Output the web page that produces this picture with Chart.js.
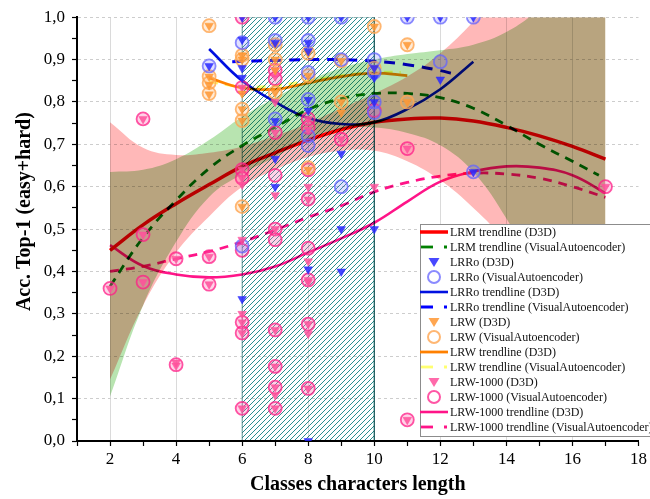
<!DOCTYPE html>
<html>
<head>
<meta charset="utf-8">
<title>Acc. Top-1 vs classes characters length</title>
<script src="https://cdn.jsdelivr.net/npm/chart.js@4.4.1/dist/chart.umd.min.js"></script>
<style>
  html, body { margin: 0; padding: 0; background: #fff; }
  #wrap { width: 650px; height: 499px; }
</style>
</head>
<body>
<div id="wrap"><canvas id="chart" width="650" height="499"></canvas></div>
<script>
// x positions of the fitted curves and confidence bands
const fitX = [2, 3, 4, 5, 6, 7, 8, 9, 10, 11, 12, 13, 14, 15, 16, 17];

// LRM trendlines
const lrmD3dTrend = [0.45, 0.51, 0.56, 0.605, 0.648, 0.68, 0.71, 0.735, 0.752, 0.76, 0.762, 0.755, 0.74, 0.72, 0.695, 0.665];
const lrmVaTrendX = [2, 3, 4, 5, 6, 7, 8, 9, 10, 11, 12, 13, 14, 15, 16, 16.8];
const lrmVaTrend = [0.365, 0.48, 0.568, 0.643, 0.697, 0.74, 0.782, 0.808, 0.82, 0.82, 0.81, 0.785, 0.745, 0.7, 0.66, 0.627];

// confidence bands (D3D = red, VisualAutoencoder = green)
const redBandUpper = [0.752, 0.692, 0.675, 0.68, 0.695, 0.72, 0.75, 0.785, 0.82, 0.86, 0.915, 0.99, 1.08, 1.2, 1.34, 1.5];
const redBandLower = [0.145, 0.32, 0.445, 0.53, 0.6, 0.64, 0.67, 0.685, 0.685, 0.66, 0.615, 0.55, 0.47, 0.37, 0.24, 0.09];
const greenBandUpper = [0.635, 0.64, 0.665, 0.71, 0.765, 0.81, 0.85, 0.88, 0.9, 0.913, 0.922, 0.935, 0.965, 1.02, 1.1, 1.2];
const greenBandLower = [0.105, 0.32, 0.47, 0.576, 0.63, 0.67, 0.714, 0.736, 0.74, 0.727, 0.698, 0.635, 0.525, 0.38, 0.22, 0.03];

// LRRo trendlines
const lrroD3dTrendX = [5, 6, 7, 8, 9, 10, 11, 12, 13];
const lrroD3dTrend = [0.925, 0.85, 0.8, 0.762, 0.748, 0.752, 0.783, 0.83, 0.895];
const lrroVaTrendX = [5.7, 7, 8, 9, 10, 11, 12, 12.4];
const lrroVaTrend = [0.895, 0.898, 0.9, 0.9, 0.896, 0.888, 0.874, 0.866];

// LRW trendlines
const lrwD3dTrendX = [5, 6, 7, 8, 9, 10, 11];
const lrwD3dTrend = [0.857, 0.833, 0.83, 0.845, 0.86, 0.868, 0.862];
const lrwVaTrendX = [5, 6, 7, 8, 9, 10, 10.8];
const lrwVaTrend = [0.848, 0.836, 0.838, 0.85, 0.862, 0.87, 0.87];

// LRW-1000 trendlines
const lrw1000D3dTrend = [0.462, 0.413, 0.393, 0.386, 0.393, 0.412, 0.445, 0.478, 0.515, 0.565, 0.612, 0.636, 0.648, 0.645, 0.627, 0.585];
const lrw1000VaTrend = [0.4, 0.412, 0.43, 0.447, 0.47, 0.498, 0.528, 0.555, 0.588, 0.61, 0.625, 0.632, 0.63, 0.62, 0.6, 0.575];

// measured points [length, accuracy]
const lrroD3d = [[5, 0.885], [6, 1.0], [6, 0.947], [6, 0.88], [6, 0.857], [6, 0.335], [7, 1.0], [7, 0.94], [7, 0.755],
  [7, 0.666], [7, 0.6], [8, 1.0], [8, 0.94], [8, 0.92], [8, 0.805], [8, 0.78], [8, 0.405], [8, 0.0], [9, 1.0],
  [9, 0.678], [9, 0.5], [9, 0.4], [10, 0.88], [10, 0.857], [10, 0.8], [10, 0.5], [11, 1.0], [12, 1.0], [12, 0.853],
  [13, 1.0], [13, 0.635]];
const lrroVa = [[5, 0.885], [6, 0.94], [6, 0.46], [7, 1.0], [7, 0.945], [7, 0.76], [8, 1.0], [8, 0.945], [8, 0.87],
  [8, 0.806], [8, 0.72], [8, 0.697], [9, 1.0], [9, 0.9], [9, 0.6], [10, 0.9], [10, 0.87], [10, 0.8], [10, 0.775],
  [11, 1.0], [12, 1.0], [12, 0.895], [13, 1.0], [13, 0.635]];
const lrwD3d = [[5, 0.98], [5, 0.86], [5, 0.84], [5, 0.818], [6, 0.91], [6, 0.9], [6, 0.82], [6, 0.783], [6, 0.756],
  [6, 0.553], [7, 0.935], [7, 0.9], [7, 0.875], [7, 0.822], [8, 0.915], [8, 0.862], [8, 0.64], [9, 0.897], [9, 0.8],
  [9, 0.775], [10, 0.978], [10, 0.88], [11, 0.935], [11, 0.8]];
const lrwVa = [[5, 0.98], [5, 0.86], [5, 0.845], [5, 0.82], [6, 0.91], [6, 0.9], [6, 0.783], [6, 0.756], [6, 0.553],
  [7, 0.935], [7, 0.9], [7, 0.822], [8, 0.915], [8, 0.862], [8, 0.645], [9, 0.897], [9, 0.8], [10, 0.978], [10, 0.88],
  [11, 0.935], [11, 0.8]];
const lrw1000D3d = [[2, 0.36], [3, 0.76], [3, 0.487], [3, 0.375], [4, 0.43], [4, 0.185], [4, 0.178], [5, 0.435],
  [5, 0.37], [6, 1.0], [6, 0.834], [6, 0.64], [6, 0.62], [6, 0.605], [6, 0.475], [6, 0.3], [6, 0.28], [6, 0.255],
  [6, 0.077], [7, 0.875], [7, 0.86], [7, 0.8], [7, 0.728], [7, 0.58], [7, 0.5], [7, 0.262], [7, 0.176], [7, 0.127],
  [7, 0.108], [7, 0.077], [8, 0.76], [8, 0.735], [8, 0.6], [8, 0.57], [8, 0.424], [8, 0.38], [8, 0.375], [8, 0.276],
  [8, 0.253], [8, 0.124], [9, 0.712], [10, 0.6], [11, 0.69], [11, 0.05], [17, 0.6]];
const lrw1000Va = [[2, 0.36], [3, 0.76], [3, 0.487], [3, 0.375], [4, 0.43], [4, 0.18], [5, 0.435], [5, 0.37],
  [6, 1.0], [6, 0.834], [6, 0.64], [6, 0.62], [6, 0.45], [6, 0.28], [6, 0.255], [6, 0.077], [7, 0.875], [7, 0.855],
  [7, 0.728], [7, 0.627], [7, 0.5], [7, 0.475], [7, 0.262], [7, 0.176], [7, 0.127], [7, 0.077], [8, 0.76], [8, 0.74],
  [8, 0.64], [8, 0.571], [8, 0.455], [8, 0.38], [8, 0.276], [8, 0.124], [9, 0.712], [10, 0.78], [11, 0.69],
  [11, 0.05], [17, 0.6]];

// shaded range of lengths
const hatchX = [6, 6, 10, 10];
const hatchY = [0, 1, 1, 0];

const SERIF = '"Liberation Serif", "Times New Roman", serif';
Chart.defaults.font.family = SERIF;
Chart.defaults.color = '#000';

const xy = (xs, ys) => xs.map((x, i) => ({ x: x, y: ys[i] }));
const pairs = (arr) => arr.map(([x, y]) => ({ x: x, y: y }));

function makeHatch() {
  const s = 5;
  const c = document.createElement('canvas');
  c.width = s;
  c.height = s;
  const g = c.getContext('2d');
  g.strokeStyle = '#2a8f90';
  g.lineWidth = 1.0;
  g.beginPath();
  g.moveTo(0, s); g.lineTo(s, 0);
  g.moveTo(-1, 1); g.lineTo(1, -1);
  g.moveTo(s - 1, s + 1); g.lineTo(s + 1, s - 1);
  g.stroke();
  return g.createPattern(c, 'repeat');
}

function trend(label, xs, ys, color, width, dash) {
  return {
    label: label, data: xy(xs, ys), borderColor: color, backgroundColor: color,
    borderWidth: width, borderDash: dash || [], pointRadius: 0, tension: 0.4,
    fill: false, order: 5, legendKind: dash ? 'dash' : 'line'
  };
}

function tri(label, arr, color) {
  return {
    label: label, data: pairs(arr), showLine: false, pointStyle: 'triangle', pointRotation: 180,
    pointRadius: 5, pointBackgroundColor: color, pointBorderColor: color, pointBorderWidth: 0.5,
    borderColor: color, backgroundColor: color, order: 1, legendKind: 'tri'
  };
}

function ring(label, arr, color, fillColor) {
  return {
    label: label, data: pairs(arr), showLine: false, pointStyle: 'circle',
    pointRadius: 6.5, pointBackgroundColor: fillColor, pointBorderColor: color, pointBorderWidth: 1.8,
    borderColor: color, backgroundColor: fillColor, order: 2, legendKind: 'circle'
  };
}

function band(xs, ys, color, target) {
  return {
    label: '', data: xy(xs, ys), borderWidth: 0, pointRadius: 0, tension: 0.4,
    backgroundColor: color, fill: target, order: 20
  };
}

const datasets = [
  trend('LRM trendline (D3D)', fitX, lrmD3dTrend, '#ff0000', 3.5),
  trend('LRM trendline (VisualAutoencoder)', lrmVaTrendX, lrmVaTrend, '#008000', 2.8, [9, 7]),
  tri('LRRo (D3D)', lrroD3d, 'rgba(40,40,255,0.85)'),
  ring('LRRo (VisualAutoencoder)', lrroVa, 'rgba(100,100,255,0.75)', 'rgba(120,120,255,0.22)'),
  trend('LRRo trendline (D3D)', lrroD3dTrendX, lrroD3dTrend, '#0010e0', 2.6),
  trend('LRRo trendline (VisualAutoencoder)', lrroVaTrendX, lrroVaTrend, '#0000ff', 3, [11, 8]),
  tri('LRW (D3D)', lrwD3d, 'rgba(255,150,50,0.85)'),
  ring('LRW (VisualAutoencoder)', lrwVa, 'rgba(255,165,80,0.8)', 'rgba(255,175,95,0.25)'),
  trend('LRW trendline (D3D)', lrwD3dTrendX, lrwD3dTrend, '#ff8000', 2.8),
  trend('LRW trendline (VisualAutoencoder)', lrwVaTrendX, lrwVaTrend, '#ffff70', 2.8, [9, 7]),
  tri('LRW-1000 (D3D)', lrw1000D3d, 'rgba(255,80,155,0.85)'),
  ring('LRW-1000 (VisualAutoencoder)', lrw1000Va, 'rgba(255,30,135,0.75)', 'rgba(255,110,180,0.3)'),
  trend('LRW-1000 trendline (D3D)', fitX, lrw1000D3dTrend, '#ff1488', 2.6),
  trend('LRW-1000 trendline (VisualAutoencoder)', fitX, lrw1000VaTrend, '#ff1488', 2.8, [9, 7]),
  // bands: upper fills down to the lower series right after it
  band(fitX, redBandUpper, '#ffb8b8', '+1'),
  band(fitX, redBandLower, 'rgba(0,0,0,0)', false),
  band(fitX, greenBandUpper, '#b8e4b0', '+1'),
  band(fitX, greenBandLower, 'rgba(0,0,0,0)', false),
  {
    label: '', data: xy(hatchX, hatchY), backgroundColor: makeHatch(), fill: 'origin',
    borderColor: 'rgba(42,143,144,0.7)', borderWidth: 1, pointRadius: 0, tension: 0, order: 25
  }
];

// hatch, bands and trendlines blend like the reference (overlaps darken); markers are drawn normally
const multiplyBlend = {
  id: 'multiplyBlend',
  beforeDatasetsDraw(chart) {
    chart.ctx.save();
    chart.ctx.globalCompositeOperation = 'multiply';
  },
  beforeDatasetDraw(chart, args) {
    const kind = chart.data.datasets[args.index].legendKind;
    if (kind === 'tri' || kind === 'circle') {
      chart.ctx.globalCompositeOperation = 'source-over';
    }
  },
  afterDatasetsDraw(chart) {
    chart.ctx.restore();
  }
};

// boxed legend inside the plot, lower right
const legendBox = {
  id: 'legendBox',
  afterDraw(chart) {
    const ctx = chart.ctx;
    const items = chart.data.datasets.filter((d) => d.legendKind);
    const left = 420, top = 224, rowH = 15;
    const h = items.length * rowH + 2;
    ctx.save();
    ctx.fillStyle = '#fff';
    ctx.fillRect(left, top, 260, h);
    ctx.strokeStyle = '#8c8c8c';
    ctx.lineWidth = 1;
    ctx.strokeRect(left + 0.5, top + 0.5, 260, h);
    ctx.font = '12px ' + SERIF;
    ctx.textBaseline = 'middle';
    items.forEach((d, i) => {
      const y = top + 8 + i * rowH;
      const cx = left + 14;
      if (d.legendKind === 'line') {
        ctx.strokeStyle = d.borderColor;
        ctx.lineWidth = d.borderWidth;
        ctx.beginPath();
        ctx.moveTo(left, y);
        ctx.lineTo(left + 28, y);
        ctx.stroke();
      } else if (d.legendKind === 'dash') {
        ctx.strokeStyle = d.borderColor;
        ctx.lineWidth = d.borderWidth;
        ctx.beginPath();
        ctx.moveTo(left + 1, y);
        ctx.lineTo(left + 13, y);
        ctx.stroke();
        ctx.fillStyle = d.borderColor;
        ctx.fillRect(left + 24, y - 1.5, 3, 3);
      } else if (d.legendKind === 'tri') {
        ctx.fillStyle = d.borderColor;
        ctx.beginPath();
        ctx.moveTo(cx - 5.5, y - 4);
        ctx.lineTo(cx + 5.5, y - 4);
        ctx.lineTo(cx, y + 5);
        ctx.closePath();
        ctx.fill();
      } else {
        ctx.strokeStyle = d.borderColor;
        ctx.lineWidth = 2;
        ctx.beginPath();
        ctx.arc(cx, y, 6, 0, Math.PI * 2);
        ctx.stroke();
      }
      ctx.fillStyle = '#111';
      ctx.fillText(d.label, left + 30, y + 0.5);
    });
    ctx.restore();
  }
};

const isTenth = (v) => Math.abs(v * 10 - Math.round(v * 10)) < 1e-6;

new Chart(document.getElementById('chart'), {
  type: 'line',
  data: { datasets: datasets },
  plugins: [multiplyBlend, legendBox],
  options: {
    responsive: false,
    animation: false,
    layout: { padding: { top: 14, right: 8, left: 0, bottom: 0 } },
    plugins: { legend: { display: false }, tooltip: { enabled: false } },
    scales: {
      x: {
        type: 'linear', min: 1, max: 18,
        afterFit: (s) => { s.height = 58; },
        ticks: {
          stepSize: 1, autoSkip: false, maxRotation: 0, padding: 3,
          font: { size: 17 },
          callback: (v) => (v % 2 === 0 ? v : '')
        },
        grid: {
          color: (c) => (c.tick && c.tick.value % 2 === 0 && c.tick.value < 18 ? '#dadada' : 'rgba(0,0,0,0)'),
          tickColor: '#000', tickLength: 5, tickWidth: 1.2
        },
        border: { color: '#000', width: 2 },
        title: {
          display: true, text: 'Classes characters length',
          font: { size: 20, weight: 'bold' }, padding: { top: 0, bottom: 2 }
        }
      },
      y: {
        min: 0, max: 1,
        afterFit: (s) => { s.width = 77; },
        ticks: {
          stepSize: 0.05, autoSkip: false, padding: 7,
          font: { size: 17 },
          callback: (v) => (isTenth(v) ? v.toFixed(1).replace('.', ',') : '')
        },
        grid: {
          color: (c) => (c.tick && isTenth(c.tick.value) && c.tick.value > 0 ? '#cdcdcd' : 'rgba(0,0,0,0)'),
          tickColor: '#000', tickLength: 5, tickWidth: 1.2
        },
        border: { color: '#000', width: 2, dash: [3, 3] },
        title: {
          display: true, text: '       Acc. Top-1 (easy+hard)',
          font: { size: 20, weight: 'bold' }, padding: { top: 13, bottom: 0 }
        }
      }
    }
  }
});
</script>
</body>
</html>
